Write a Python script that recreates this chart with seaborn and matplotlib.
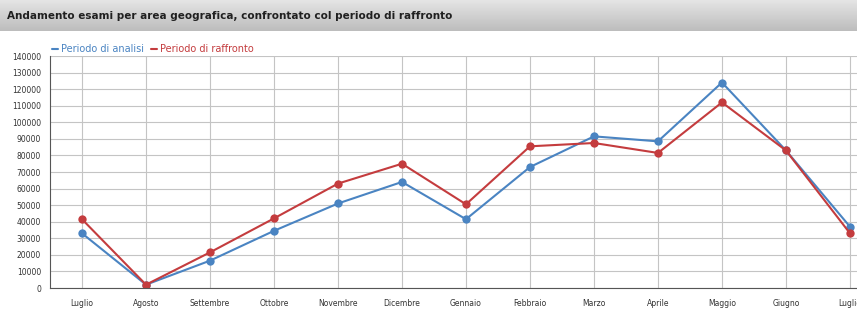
import numpy as np
import pandas as pd
import matplotlib
matplotlib.use('Agg')
import matplotlib.pyplot as plt
import seaborn as sns

# dati
mesi = ['Luglio', 'Agosto', 'Settembre', 'Ottobre', 'Novembre', 'Dicembre', 'Gennaio',
        'Febbraio', 'Marzo', 'Aprile', 'Maggio', 'Giugno', 'Luglio']
analisi = [33000, 2000, 16500, 34500, 51000, 64000, 41500, 73000, 91500, 88500, 124000, 83000, 37000]
raffronto = [41500, 2000, 21500, 42000, 63000, 75000, 50500, 85500, 87500, 81500, 112000, 83000, 33000]

blu = '#4a84c2'
rosso = '#c43c3e'

sns.set_style('white')
plt.rcParams['font.family'] = ['DejaVu Sans']

df = pd.DataFrame({'pos': np.arange(len(mesi)), 'analisi': analisi, 'raffronto': raffronto})

fig = plt.figure(figsize=(8.57, 3.14), dpi=100)

# barra del titolo
tax = fig.add_axes([0, 0.9, 1, 0.1])
grad = np.linspace(0.90, 0.74, 50).reshape(-1, 1)
tax.imshow(grad, aspect='auto', cmap='gray', vmin=0, vmax=1, extent=[0, 1, 0, 1])
tax.set_axis_off()
tax.text(0.008, 0.5, 'Andamento esami per area geografica, confrontato col periodo di raffronto',
         fontsize=7.5, fontweight='bold', color='#202020', va='center', ha='left')

ax = fig.add_axes([50 / 857, 26 / 314, 1 - 50 / 857, 232 / 314])
sns.lineplot(data=df, x='pos', y='analisi', ax=ax, color=blu, marker='o', markersize=6,
             markeredgewidth=0, linewidth=1.5, label='Periodo di analisi')
sns.lineplot(data=df, x='pos', y='raffronto', ax=ax, color=rosso, marker='o', markersize=6,
             markeredgewidth=0, linewidth=1.5, label='Periodo di raffronto')

ax.set_xlim(-0.5, 12.11)
ax.set_ylim(0, 140000)
ax.set_yticks(np.arange(0, 140001, 10000))
ax.set_xticks(df['pos'])
ax.set_xticklabels(mesi)
ax.tick_params(axis='both', labelsize=5.5, colors='#333333', length=3, width=0.6)
ax.tick_params(axis='x', pad=5)
ax.set_xlabel('')
ax.set_ylabel('')
ax.grid(True, color='#c4c4c4', linewidth=0.8)
ax.set_axisbelow(True)
for s in ['top', 'right']:
    ax.spines[s].set_visible(False)
ax.spines['left'].set_color('#555555')
ax.spines['bottom'].set_color('#555555')
ax.spines['left'].set_linewidth(0.8)
ax.spines['bottom'].set_linewidth(0.8)

leg = ax.legend(loc='lower left', bbox_to_anchor=(0.0, 1.0), ncol=2, frameon=False,
                fontsize=7, handlelength=0.6, handletextpad=0.3, columnspacing=0.8,
                borderaxespad=0.1, borderpad=0.1)
for h in leg.legend_handles:
    h.set_marker('')
for t, c in zip(leg.get_texts(), [blu, rosso]):
    t.set_color(c)

fig.savefig('out.png', dpi=100)
